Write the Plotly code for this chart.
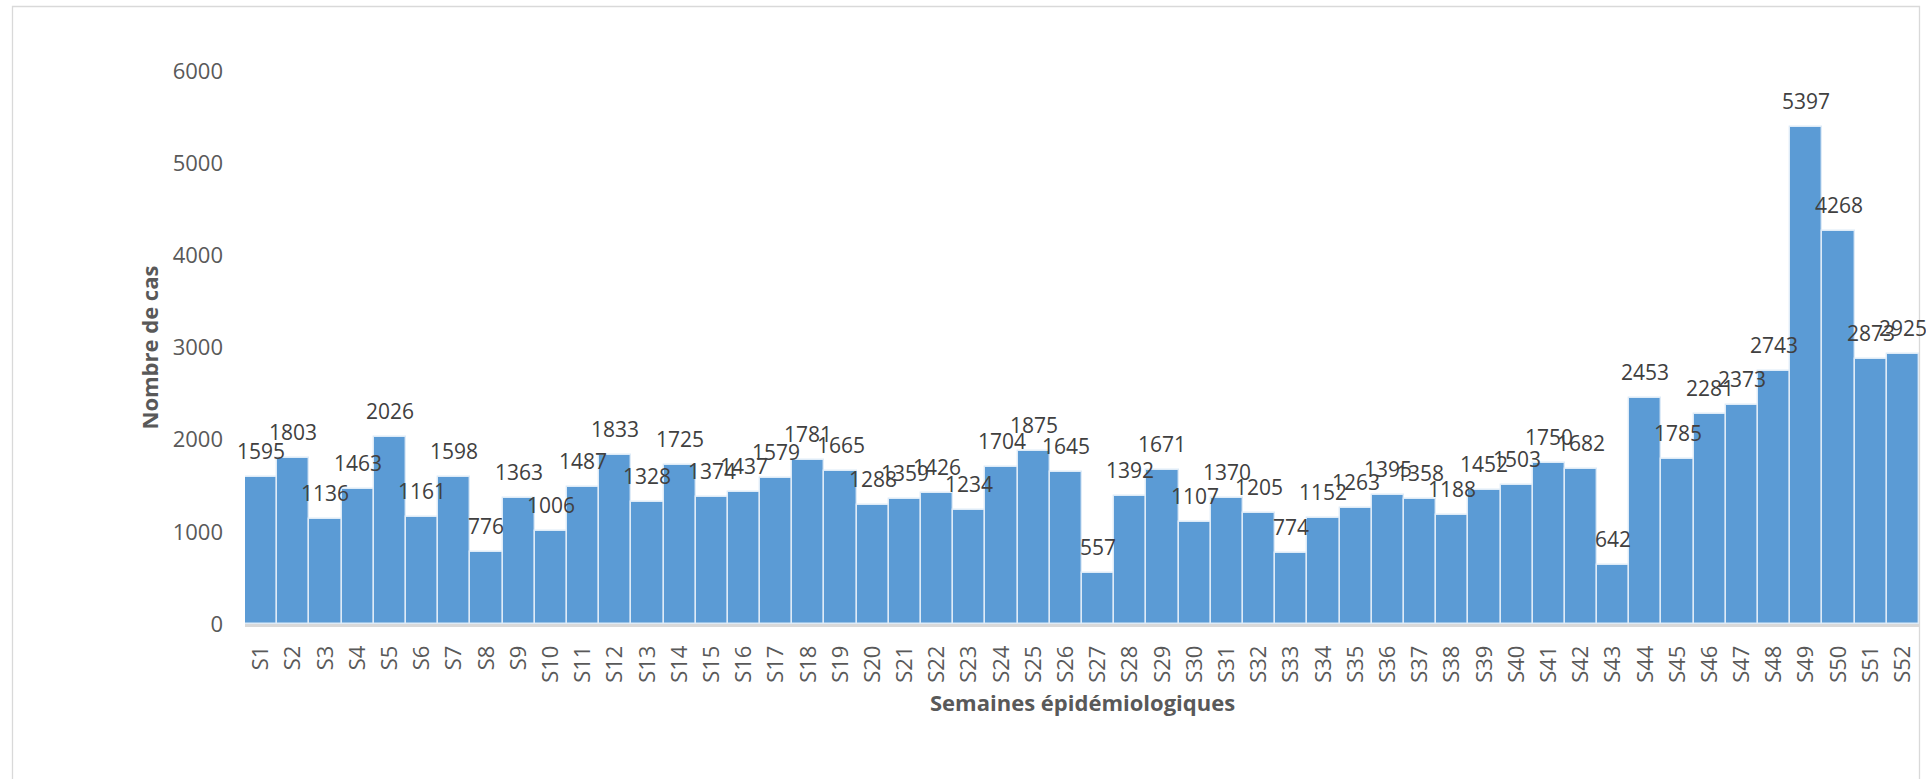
import plotly.graph_objects as go

weeks = [f"S{i}" for i in range(1, 53)]
cases = [1595, 1803, 1136, 1463, 2026, 1161, 1598, 776, 1363, 1006,
         1487, 1833, 1328, 1725, 1374, 1437, 1579, 1781, 1665, 1288,
         1359, 1426, 1234, 1704, 1875, 1645, 557, 1392, 1671, 1107,
         1370, 1205, 774, 1152, 1263, 1395, 1358, 1188, 1452, 1503,
         1750, 1682, 642, 2453, 1785, 2281, 2373, 2743, 5397, 4268,
         2873, 2925]
y_ticks = [0, 1000, 2000, 3000, 4000, 5000, 6000]

W, H = 1926, 779
L, R, T, B = 245, 7, 71, 155
pw = W - L - R
ph = H - T - B

FONT = "Open Sans"

fig = go.Figure()
fig.add_trace(go.Bar(
    x=weeks, y=cases,
    marker=dict(color="#5B9BD5", line=dict(color="#DEEBF7", width=1.4)),
    width=1.0,
    hoverinfo="x+y",
))

annotations = []
for w, v in zip(weeks, cases):
    annotations.append(dict(
        x=w, y=v, xref="x", yref="y", text=str(v), showarrow=False,
        yanchor="middle", xanchor="center", yshift=26,
        font=dict(family=FONT, size=21, color="#404040"),
    ))

annotations.append(dict(
    x=0.5, y=(624 - 702) / ph, xref="paper", yref="paper",
    text="<b>Semaines épidémiologiques</b>", showarrow=False,
    xanchor="center", yanchor="middle",
    font=dict(family=FONT, size=22, color="#595959"),
))
annotations.append(dict(
    x=(148 - L) / pw, y=0.5, xref="paper", yref="paper",
    text="<b>Nombre de cas</b>", showarrow=False, textangle=-90,
    xanchor="center", yanchor="middle",
    font=dict(family=FONT, size=22, color="#595959"),
))

fig.update_layout(
    width=W, height=H,
    margin=dict(l=L, r=R, t=T, b=B, pad=0),
    paper_bgcolor="white", plot_bgcolor="white",
    bargap=0,
    showlegend=False,
    annotations=annotations,
    shapes=[dict(
        type="rect", xref="paper", yref="paper",
        x0=(12.5 - L) / pw, x1=(1919.5 - L) / pw,
        y0=(624 - 820) / ph, y1=(624 - 6.5) / ph,
        line=dict(color="#D9D9D9", width=1.3), fillcolor="rgba(0,0,0,0)",
        layer="below",
    )],
    xaxis=dict(
        type="category", tickangle=-90, showgrid=False, zeroline=False,
        showline=True, linecolor="#D9D9D9", linewidth=2.5,
        ticks="", ticklabelstandoff=10, automargin=False,
        tickfont=dict(family=FONT, size=22, color="#595959"),
        range=[-0.5, len(weeks) - 0.5],
    ),
    yaxis=dict(
        range=[0, 6000], tickvals=y_ticks, ticktext=[str(t) for t in y_ticks],
        showgrid=False, zeroline=False, showline=False, ticks="",
        ticklabelstandoff=21, automargin=False,
        tickfont=dict(family=FONT, size=22, color="#595959"),
    ),
)

fig.write_html(
    "out.html",
    config={"displayModeBar": False},
    post_script="document.body.style.margin='0';document.body.style.overflow='hidden';",
)
